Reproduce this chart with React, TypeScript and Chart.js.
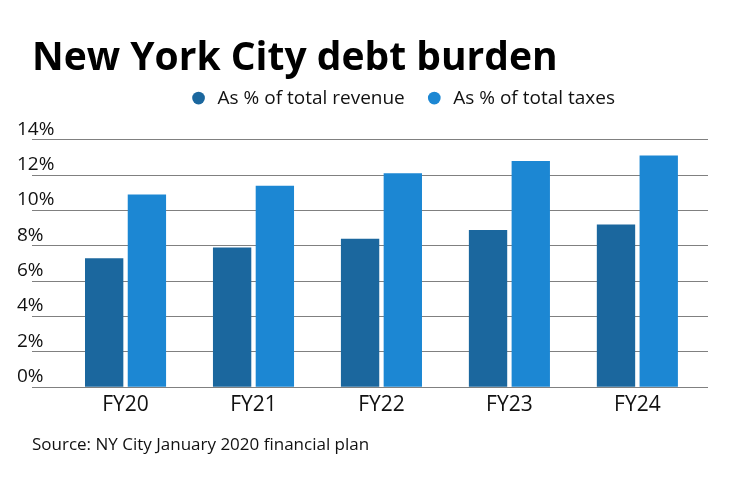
import { useEffect, useRef } from 'react';
import { Chart, registerables } from 'chart.js';

Chart.register(...registerables);

const categories = ['FY20', 'FY21', 'FY22', 'FY23', 'FY24'];
const revenueShare = [7.3, 7.9, 8.4, 8.9, 9.2];
const taxShare = [10.9, 11.4, 12.1, 12.8, 13.1];
const seriesNames = ['As % of total revenue', 'As % of total taxes'];
const yTickValues = [0, 2, 4, 6, 8, 10, 12, 14];
const titleText = 'New York City debt burden';
const sourceText = 'Source: NY City January 2020 financial plan';

const FONT = 'Open Sans';

export default function App() {
  const ref = useRef<HTMLCanvasElement>(null);

  useEffect(() => {
    if (!ref.current) return;

    // Extra space under the legend and a small shift of the legend to the right.
    const legendTweak = {
      id: 'legendTweak',
      beforeLayout(chart: any) {
        const lg: any = chart.legend;
        if (lg && !lg._spaced) {
          const fit = lg.fit;
          lg.fit = function () {
            fit.call(this);
            this.height += 22.1;
          };
          lg._spaced = true;
        }
      },
      afterLayout(chart: any) {
        const lg: any = chart.legend;
        if (lg) {
          lg.left += 32;
          lg.right += 32;
        }
      },
    };

    const chart = new Chart(ref.current, {
      type: 'bar',
      data: {
        datasets: [
          {
            label: seriesNames[0],
            data: revenueShare.map((v, i) => ({ x: i, y: v })),
            backgroundColor: '#1b679e',
            categoryPercentage: 0.668,
            barPercentage: 0.897,
          },
          {
            label: seriesNames[1],
            data: taxShare.map((v, i) => ({ x: i, y: v })),
            backgroundColor: '#1c87d3',
            categoryPercentage: 0.668,
            barPercentage: 0.897,
          },
        ],
      },
      options: {
        animation: false,
        responsive: true,
        maintainAspectRatio: false,
        layout: {
          padding: { left: 17, right: 32, top: 0, bottom: 22.8 },
          autoPadding: false,
        },
        scales: {
          x: {
            type: 'linear',
            offset: false,
            min: -0.731,
            max: 4.552,
            afterBuildTicks: (s: any) => {
              s.ticks = categories.map((_, i) => ({ value: i }));
            },
            grid: { display: false, drawTicks: false },
            border: { display: false },
            ticks: {
              autoSkip: false,
              maxRotation: 0,
              padding: 5,
              color: '#111',
              font: { family: FONT, size: 21 },
              callback: (v: any) => categories[v as number] ?? '',
            },
            title: {
              display: true,
              text: sourceText,
              align: 'start',
              color: '#111',
              font: { family: FONT, size: 17 },
              padding: { top: 12.3, bottom: 4 },
            },
          },
          y: {
            min: 0,
            max: 14,
            afterBuildTicks: (s: any) => {
              s.ticks = yTickValues.map((v) => ({ value: v }));
            },
            afterFit: (s: any) => {
              s.width = 15;
            },
            grid: { color: '#808080', lineWidth: 1, drawTicks: false },
            border: { display: false },
            ticks: {
              mirror: true,
              crossAlign: 'near',
              labelOffset: -10.5,
              padding: -15,
              color: '#111',
              font: { family: FONT, size: 19 },
              callback: (v: any) => `${v}%`,
            },
          },
        },
        plugins: {
          title: {
            display: true,
            text: titleText,
            align: 'start',
            fullSize: false,
            color: '#000',
            font: { family: FONT, size: 39, weight: 'bold', lineHeight: 0.6 },
            padding: { top: 46.7, bottom: -1.5 },
          },
          legend: {
            display: true,
            position: 'top',
            align: 'center',
            fullSize: false,
            labels: {
              usePointStyle: true,
              pointStyle: 'circle',
              boxWidth: 19,
              boxHeight: 9,
              padding: 20,
              color: '#111',
              font: { family: FONT, size: 19 },
            },
          },
          tooltip: { enabled: false },
        },
      } as any,
      plugins: [legendTweak],
    });

    return () => chart.destroy();
  }, []);

  return (
    <div style={{ position: 'absolute', left: 0, top: 0, width: 740, height: 482 }}>
      <canvas ref={ref} />
    </div>
  );
}
